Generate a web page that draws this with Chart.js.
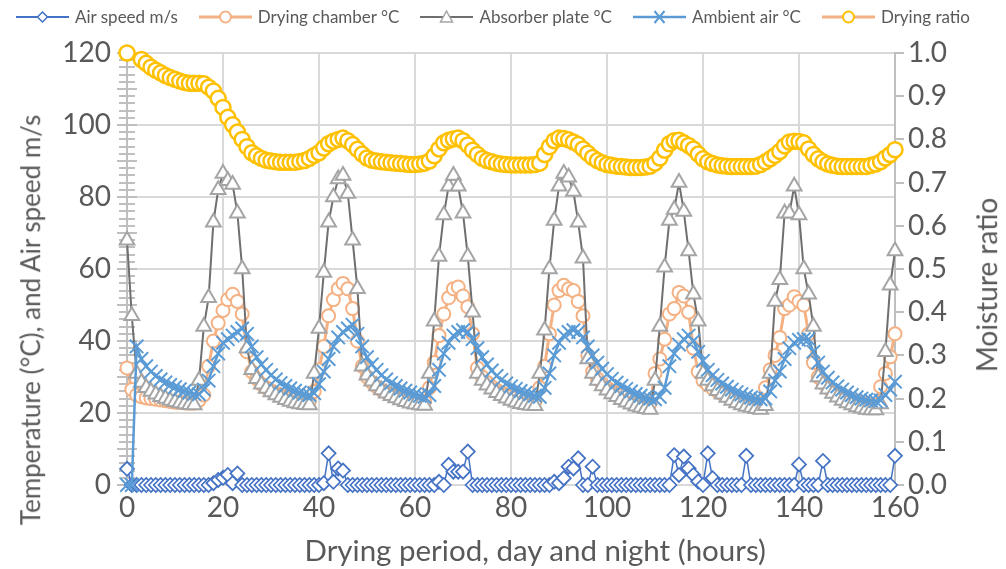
<!DOCTYPE html>
<html>
<head>
<meta charset="utf-8">
<script src="https://cdn.jsdelivr.net/npm/chart.js@4.4.1/dist/chart.umd.min.js"></script>
<style>
  body { margin: 0; background: #fff; }
  #wrap { position: relative; width: 1006px; height: 569px; font-family: Lato, "Liberation Sans", sans-serif; color: #595959; }
  #chart { position: absolute; left: 0; top: 0; }
  #legend { position: absolute; top: 6px; left: 16px; display: flex; gap: 21px; font-size: 17px; line-height: 22px; white-space: nowrap; }
  #legend .item { display: flex; align-items: center; gap: 6px; }
  .axis-title { position: absolute; white-space: nowrap; font-size: 26px; transform-origin: center; }
  #titleBottom { font-size: 29.5px; }
  #titleRight { font-size: 28px; }
</style>
</head>
<body>
<div id="wrap">
  <canvas id="chart" width="1006" height="569"></canvas>
  <div id="legend"></div>
  <div class="axis-title" id="titleLeft">Temperature (°C), and Air speed m/s</div>
  <div class="axis-title" id="titleRight">Moisture ratio</div>
  <div class="axis-title" id="titleBottom">Drying period, day and night (hours)</div>
</div>
<script>
// hours of drying
const hours = [
  0,1,2,3,4,5,6,7,8,9,10,11,12,13,14,15,16,17,18,19,
  20,21,22,23,24,25,26,27,28,29,30,31,32,33,34,35,36,37,38,39,
  40,41,42,43,44,45,46,47,48,49,50,51,52,53,54,55,56,57,58,59,
  60,61,62,63,64,65,66,67,68,69,70,71,72,73,74,75,76,77,78,79,
  80,81,82,83,84,85,86,87,88,89,90,91,92,93,94,95,96,97,98,99,
  100,101,102,103,104,105,106,107,108,109,110,111,112,113,114,115,116,117,118,119,
  120,121,122,123,124,125,126,127,128,129,130,131,132,133,134,135,136,137,138,139,
  140,141,142,143,144,145,146,147,148,149,150,151,152,153,154,155,156,157,158,159,
  160
];

// Air speed m/s
const airSpeed = [
  4.5,0,0,0,0,0,0,0,0,0,
  0,0,0,0,0,0,0,0,0.5,1.4,
  2,2.8,0.5,3.2,0,0,0,0,0,0,
  0,0,0,0,0,0,0,0,0,0,
  0,0.5,8.8,0.9,4.6,4,0,0,0,0,
  0,0,0,0,0,0,0,0,0,0,
  0,0,0,0,0,0.9,0,5.6,3.7,3.7,
  3.7,9.3,0,0,0,0,0,0,0,0,
  0,0,0,0,0,0,0,0,0,0.9,
  0.5,1.9,5.1,4.6,7.4,0,0,5.1,0,0,
  0,0,0,0,0,0,0,0,0,0,
  0,0,0,0,8.3,2.8,7.9,4.6,2.8,1,
  0,8.8,1.9,0,0,0,0,0,0,8.1,
  0,0,0,0,0,0,0,0,0,0,
  5.7,0,0,0,0,6.7,0,0,0,0,
  0,0,0,0,0,0,0,0,0,0,
  8.1
];

// Drying chamber °C
const chamber = [
  32.5,26.5,25,24.5,24.2,24,23.8,23.6,23.4,23.2,
  23,22.9,22.8,22.7,22.7,23.5,25,33,40,45,
  48.5,51.5,53,51,47.5,37,31.5,29.5,28,27,
  26.2,25.5,25,24.5,24.1,23.8,23.5,23.3,23.2,26,
  32,38.5,47,51.5,54.5,56,54.5,49,40,33,
  30,28.5,27.3,26.4,25.7,25.1,24.6,24.2,23.9,23.6,
  23.4,23.2,23.2,27,34,41.5,47.5,52,54.5,55,
  52.5,49.5,42,32.5,30,28.5,27.3,26.4,25.7,25.1,
  24.6,24.2,23.9,23.6,23.4,23.2,27,33,42,50,
  54,55.5,54.5,54,51,47,36,31.5,29.5,28,
  27,26.2,25.5,24.9,24.4,24,23.6,23.3,23,22.8,
  31,35,40.5,47.5,49,53.5,52.5,48,38,31.5,
  29,27.8,26.8,26,25.3,24.7,24.2,23.8,23.4,23.1,
  22.9,22.7,22.6,27,32,36,41,49,50,52.3,
  51,50,42,34,30,28.3,27,26,25.2,24.5,
  24,23.5,23.1,22.8,22.5,22.3,22.2,27.3,31,35.6,
  42
];

// Absorber plate °C
const absorber = [
  68,47,31,28.5,27,26,25.2,24.5,24,23.5,
  23.1,22.8,22.5,22.3,22.2,29,44,52,73,82,
  86.5,84.5,83.5,75.5,60,38,32,29.5,28,26.8,
  25.8,25,24.3,23.7,23.2,22.8,22.5,22.3,22.2,31,
  43.5,59,73,80,85,86,81,68,54.5,33,
  30.5,28.8,27.5,26.4,25.5,24.8,24.2,23.6,23.1,22.7,
  22.4,22.2,22.1,31,45.5,63.5,75,83,86,83,
  75.5,63.5,48,31,29,27.7,26.6,25.6,24.8,24.1,
  23.5,23,22.6,22.3,22.1,22,31,43,60,73.5,
  83,86.5,85.5,81.5,73,63,35,31,29,27.5,
  26.3,25.3,24.5,23.7,23,22.4,21.9,21.5,21.2,21,
  29,44,60.5,73.5,76.5,84,76,65,53,45.5,
  31,29,27.5,26.2,25.2,24.3,23.5,22.8,22.2,21.8,
  21.5,21.2,21,22,31,51,57,75.5,75.5,83,
  75,60,53,44,30,28,26.6,25.4,24.4,23.5,
  22.8,22.2,21.7,21.3,21,20.8,20.8,22.5,37,55.5,
  65
];

// Ambient air °C
const ambient = [
  0,0,38.5,35,33,31.5,30.3,29.3,28.5,27.8,
  27.2,26.6,26.1,25.7,25.3,25.2,26.5,29,33,36.5,
  39.5,40.5,41.5,42.5,43.5,42,38.5,35.5,33.5,32,
  30.5,29.3,28.3,27.5,26.8,26.2,25.7,25.3,25,25.5,
  28,31.5,35,38.5,41,42.5,43.5,44.5,42,38.5,
  35.5,33.5,32,30.5,29.3,28.3,27.5,26.8,26.2,25.7,
  25.2,24.8,24.5,25,27.5,32,36.5,39.5,41.5,42.5,
  43,42.5,40.5,38,35.5,33.5,31.8,30.3,29.2,28.2,
  27.4,26.7,26.1,25.6,25.2,24.8,24.5,27,31,36,
  39.5,41.5,42.5,43,42.5,41,38.5,36,34,32.3,
  30.8,29.5,28.4,27.5,26.7,26,25.3,24.8,24.3,24,
  23.8,24.5,27,33,36.5,39,40.5,41.5,40,37,
  34.5,32,30.5,29.2,28.2,27.3,26.5,25.8,25.2,24.7,
  24.3,24,23.8,24,26,29,31.5,35,38,39.5,
  40.3,40.5,40.5,37,34,31.5,29.8,28.5,27.4,26.5,
  25.7,25,24.4,24,23.7,23.5,23.3,23.5,25,26.5,
  28.7
];

// Drying (moisture) ratio, right axis
const dryingRatio = [
  1.000,null,null,0.985,0.976,0.967,0.960,0.954,0.948,0.943,
  0.939,0.935,0.932,0.930,0.930,0.930,0.929,0.921,0.912,0.895,
  0.874,0.851,0.834,0.817,0.800,0.783,0.769,0.762,0.756,0.752,
  0.750,0.748,0.747,0.747,0.747,0.747,0.749,0.751,0.756,0.763,
  0.769,0.780,0.790,0.796,0.800,0.803,0.797,0.788,0.777,0.766,
  0.757,0.752,0.750,0.748,0.747,0.746,0.745,0.744,0.743,0.742,
  0.742,0.743,0.745,0.750,0.762,0.778,0.792,0.798,0.801,0.803,
  0.797,0.787,0.775,0.765,0.756,0.751,0.748,0.745,0.743,0.742,
  0.741,0.741,0.741,0.741,0.741,0.742,0.745,0.765,0.783,0.797,
  0.803,0.802,0.799,0.794,0.788,0.778,0.768,0.758,0.751,0.746,
  0.742,0.740,0.738,0.737,0.736,0.735,0.735,0.735,0.736,0.738,
  0.745,0.757,0.775,0.790,0.797,0.798,0.792,0.786,0.778,0.766,
  0.755,0.748,0.744,0.741,0.739,0.738,0.737,0.737,0.737,0.737,
  0.737,0.738,0.742,0.748,0.755,0.763,0.772,0.785,0.794,0.796,
  0.795,0.792,0.778,0.765,0.755,0.748,0.743,0.740,0.738,0.737,
  0.737,0.737,0.737,0.737,0.737,0.740,0.743,0.748,0.757,0.765,
  0.776
];

const axisTicks = [0, 20, 40, 60, 80, 100, 120, 140, 160];

const textColor = '#595959';
const tickFont = { family: 'Lato, "Liberation Sans", sans-serif', size: 28 };

const toPoints = vals => hours.map((h, i) => ({ x: h, y: vals[i] }));

const series = [
  { label: 'Air speed m/s', data: airSpeed, axis: 'y', line: '#4472C4', lineWidth: 1.5,
    marker: 'rectRot', markerColor: '#4472C4', radius: 7, markerWidth: 1.75, order: 5 },
  { label: 'Drying chamber °C', data: chamber, axis: 'y', line: '#F4B183', lineWidth: 3,
    marker: 'circle', markerColor: '#F4B183', radius: 6.5, markerWidth: 2, order: 4 },
  { label: 'Absorber plate °C', data: absorber, axis: 'y', line: '#6f6f6f', lineWidth: 2,
    marker: 'triangle', markerColor: '#A5A5A5', radius: 8.5, markerWidth: 2, order: 3 },
  { label: 'Ambient air °C', data: ambient, axis: 'y', line: '#5B9BD5', lineWidth: 2.5,
    marker: 'crossRot', markerColor: '#5B9BD5', radius: 9.5, markerWidth: 2, order: 2 },
  { label: 'Drying ratio', data: dryingRatio, axis: 'y2', line: '#F4B183', lineWidth: 3,
    marker: 'circle', markerColor: '#FFC000', radius: 7.5, markerWidth: 2.5, order: 1 }
];

// left axis tick crosses and the axis line
const leftAxisMarks = {
  id: 'leftAxisMarks',
  beforeDatasetsDraw(chart) {
    const { ctx, scales: { x, y } } = chart;
    const x0 = x.getPixelForValue(0);
    ctx.save();
    ctx.strokeStyle = '#bfbfbf';
    ctx.lineWidth = 2;
    ctx.beginPath();
    ctx.moveTo(x0, y.top);
    ctx.lineTo(x0, y.bottom);
    for (let v = 0; v <= 120; v += 2) {
      const py = Math.round(y.getPixelForValue(v));
      const half = v % 10 === 0 ? 10 : 8;
      ctx.moveTo(x0 - half, py);
      ctx.lineTo(x0 + half, py);
    }
    ctx.stroke();
    ctx.restore();
  }
};

new Chart(document.getElementById('chart'), {
  type: 'line',
  data: {
    datasets: series.map(s => ({
      label: s.label,
      data: toPoints(s.data),
      yAxisID: s.axis,
      borderColor: s.line,
      borderWidth: s.lineWidth,
      pointStyle: s.marker,
      pointRadius: s.radius,
      pointBorderColor: s.markerColor,
      pointBorderWidth: s.markerWidth,
      pointBackgroundColor: '#ffffff',
      tension: 0,
      spanGaps: true,
      clip: false,
      order: s.order
    }))
  },
  options: {
    responsive: false,
    animation: false,
    layout: { padding: { top: 53, left: 0, right: 0, bottom: 0 } },
    plugins: { legend: { display: false }, tooltip: { enabled: false } },
    scales: {
      x: {
        type: 'linear', min: 0, max: 160,
        afterBuildTicks: s => { s.ticks = axisTicks.map(v => ({ value: v })); },
        ticks: { font: tickFont, color: textColor, padding: 6, maxRotation: 0 },
        grid: { color: '#d9d9d9', lineWidth: 2, drawTicks: false },
        border: { display: false },
        afterFit: s => { s.height = 84; }
      },
      y: {
        position: 'left', min: 0, max: 120,
        ticks: { stepSize: 10, font: tickFont, color: textColor, padding: 16 },
        grid: { color: '#d9d9d9', lineWidth: 2, drawTicks: false },
        border: { display: false },
        afterFit: s => { s.width = 127; }
      },
      y2: {
        position: 'right', min: 0, max: 1,
        ticks: { stepSize: 0.1, font: tickFont, color: textColor, padding: 4,
                 callback: v => v.toFixed(1) },
        grid: { drawOnChartArea: false, color: '#bfbfbf', lineWidth: 2, tickLength: 9 },
        border: { display: true, color: '#bfbfbf', width: 2 },
        afterFit: s => { s.width = 111; }
      }
    }
  },
  plugins: [leftAxisMarks]
});

// legend, built from the series list
function markerSvg(s) {
  const cx = 26.5, cy = 8, c = s.markerColor;
  let m = '';
  if (s.marker === 'rectRot') m = `<polygon points="${cx},${cy-5} ${cx+5},${cy} ${cx},${cy+5} ${cx-5},${cy}" fill="#fff" stroke="${c}" stroke-width="1.5"/>`;
  else if (s.marker === 'circle') m = `<circle cx="${cx}" cy="${cy}" r="5.5" fill="#fff" stroke="${c}" stroke-width="2"/>`;
  else if (s.marker === 'triangle') m = `<polygon points="${cx},${cy-6} ${cx+6},${cy+5} ${cx-6},${cy+5}" fill="#fff" stroke="${c}" stroke-width="1.5"/>`;
  else m = `<path d="M${cx-5},${cy-6} L${cx+5},${cy+6} M${cx+5},${cy-6} L${cx-5},${cy+6}" stroke="${c}" stroke-width="2"/>`;
  return `<svg width="53" height="16"><line x1="0" y1="${cy}" x2="53" y2="${cy}" stroke="${s.line}" stroke-width="${Math.max(2, s.lineWidth)}"/>${m}</svg>`;
}
document.getElementById('legend').innerHTML = series.map(s =>
  `<div class="item">${markerSvg(s)}<span>${s.label}</span></div>`).join('');

// axis titles
function place(id, cx, cy, rot) {
  const el = document.getElementById(id);
  el.style.left = (cx - el.offsetWidth / 2) + 'px';
  el.style.top = (cy - el.offsetHeight / 2) + 'px';
  if (rot) el.style.transform = `rotate(${rot}deg)`;
}
place('titleLeft', 30, 320, -90);
place('titleRight', 986, 285, -90);
place('titleBottom', 535, 549, 0);
</script>
</body>
</html>
